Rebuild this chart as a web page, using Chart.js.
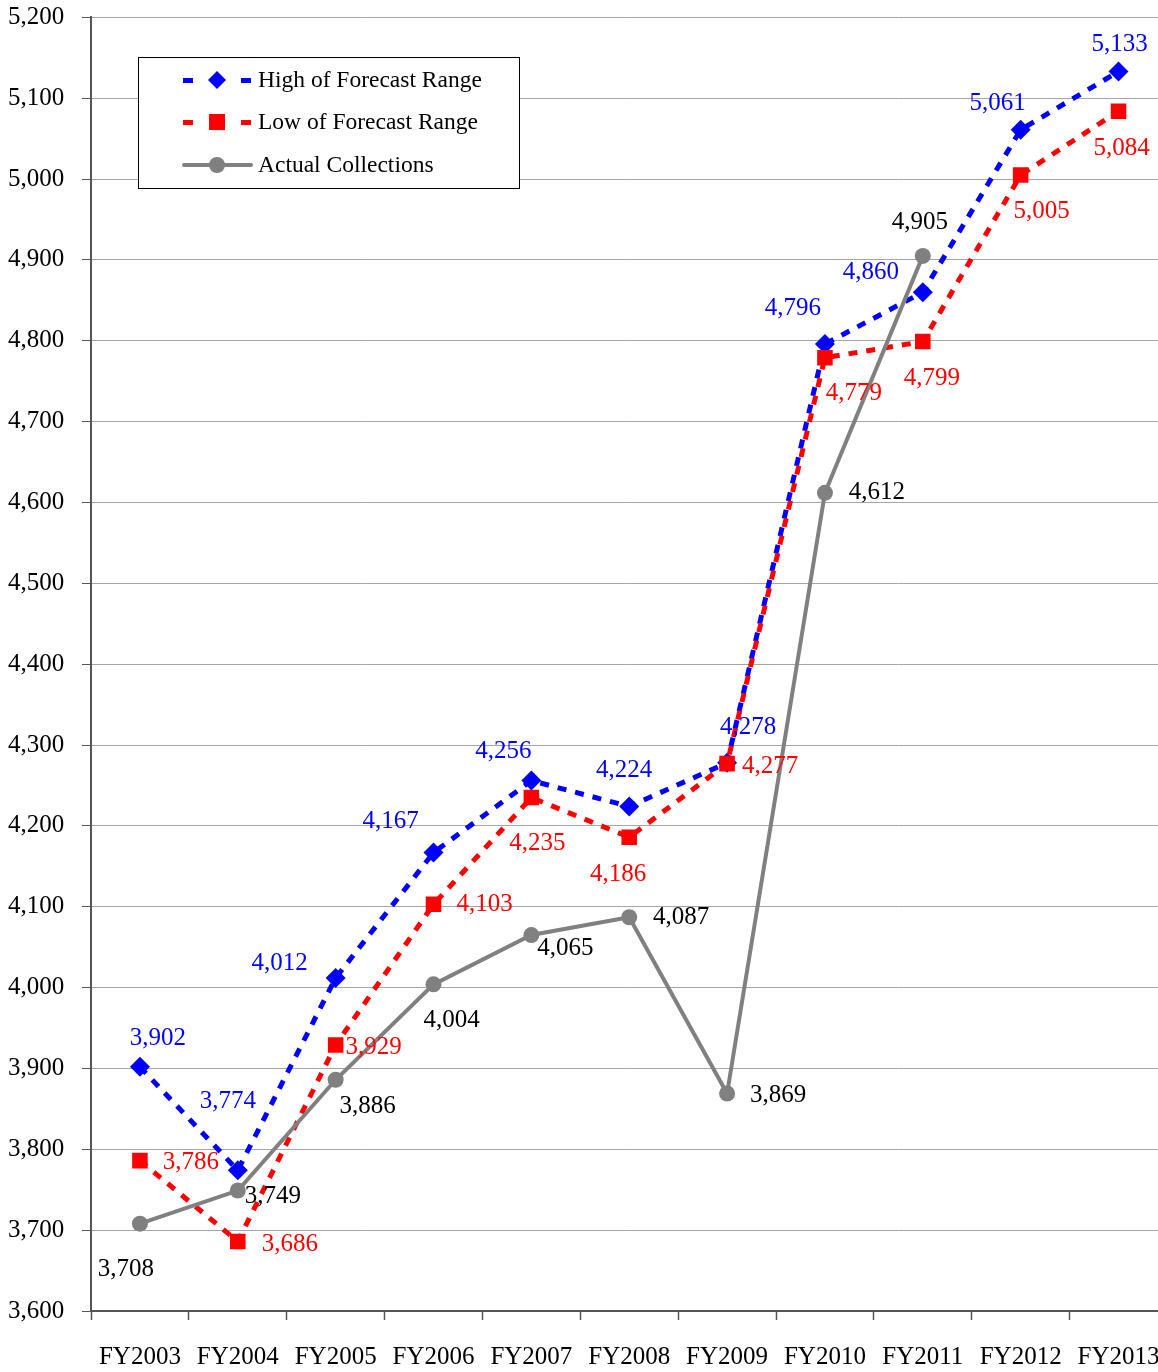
<!DOCTYPE html>
<html>
<head>
<meta charset="utf-8">
<script src="https://cdn.jsdelivr.net/npm/chart.js@4.4.0/dist/chart.umd.min.js"></script>
<style>
  html, body { margin: 0; padding: 0; background: #fff; overflow: hidden; }
  #wrap { width: 1182px; height: 1372px; }
</style>
</head>
<body>
<div id="wrap"><canvas id="chart" width="1182" height="1372"></canvas></div>
<script>
const years = ["FY2003", "FY2004", "FY2005", "FY2006", "FY2007", "FY2008", "FY2009", "FY2010", "FY2011", "FY2012", "FY2013"];
const highForecast = [3902, 3774, 4012, 4167, 4256, 4224, 4278, 4796, 4860, 5061, 5133];
const lowForecast = [3786, 3686, 3929, 4103, 4235, 4186, 4277, 4779, 4799, 5005, 5084];
const actualCollections = [3708, 3749, 3886, 4004, 4065, 4087, 3869, 4612, 4905, null, null];
const seriesNames = ["High of Forecast Range", "Low of Forecast Range", "Actual Collections"];

// where each value label sits relative to its point (dx, dy)
const highLabelPos = [[18,-28],[-10,-69],[-56,-14],[-43,-31],[-28,-29],[-5,-36],[21,-35],[-32,-36],[-52,-20],[-23,-26],[1,-27]];
const lowLabelPos = [[51,2],[52,3],[38,2],[51,0],[6,46],[-11,37],[43,3],[29,36],[9,37],[21,36],[3,37]];
const actualLabelPos = [[-14,46],[35,6],[32,27],[18,36],[34,13],[52,0],[51,2],[52,0],[-3,-33]];

const FONT = "'Liberation Serif', 'Times New Roman', serif";
const fmt = v => v.toLocaleString("en-US");

const valueLabels = {
  id: "valueLabels",
  afterDatasetsDraw(chart) {
    const ctx = chart.ctx;
    ctx.save();
    ctx.font = "25px " + FONT;
    ctx.textAlign = "center";
    ctx.textBaseline = "middle";
    chart.data.datasets.forEach((ds, i) => {
      const meta = chart.getDatasetMeta(i);
      meta.data.forEach((pt, j) => {
        const v = ds.data[j];
        if (v == null) return;
        const off = ds.labelPos[j] || [0, 0];
        ctx.fillStyle = ds.labelColor;
        ctx.fillText(fmt(v), pt.x + off[0], pt.y + off[1]);
      });
    });
    ctx.restore();
  }
};

const boxLegend = {
  id: "boxLegend",
  afterDraw(chart) {
    const ctx = chart.ctx;
    ctx.save();
    ctx.fillStyle = "#fff";
    ctx.fillRect(138, 57, 381, 131);
    ctx.strokeStyle = "#000";
    ctx.lineWidth = 1;
    ctx.strokeRect(138.5, 57.5, 381, 131);

    const rows = [80, 122, 165];
    // high
    ctx.fillStyle = "#0000ff";
    ctx.fillRect(183, rows[0] - 2, 10, 5);
    ctx.fillRect(241, rows[0] - 2, 10, 5);
    ctx.beginPath();
    ctx.moveTo(217, rows[0] - 9); ctx.lineTo(226, rows[0]); ctx.lineTo(217, rows[0] + 9); ctx.lineTo(208, rows[0]);
    ctx.closePath(); ctx.fill();
    // low
    ctx.fillStyle = "#ff0000";
    ctx.fillRect(183, rows[1] - 2, 10, 5);
    ctx.fillRect(241, rows[1] - 2, 10, 5);
    ctx.fillRect(209, rows[1] - 8, 16, 16);
    // actual
    ctx.strokeStyle = "#808080";
    ctx.lineWidth = 4;
    ctx.lineCap = "round";
    ctx.beginPath(); ctx.moveTo(184, rows[2]); ctx.lineTo(251, rows[2]); ctx.stroke();
    ctx.fillStyle = "#808080";
    ctx.beginPath(); ctx.arc(217, rows[2], 8, 0, Math.PI * 2); ctx.fill();

    ctx.fillStyle = "#000";
    ctx.font = "23.5px " + FONT;
    ctx.textBaseline = "middle";
    ctx.textAlign = "left";
    seriesNames.forEach((n, i) => ctx.fillText(n, 258, rows[i] + 1));
    ctx.restore();
  }
};

new Chart(document.getElementById("chart"), {
  type: "line",
  data: {
    labels: years,
    datasets: [
      {
        label: seriesNames[0], data: highForecast, order: 2,
        borderColor: "#0000ff", backgroundColor: "#0000ff", borderWidth: 5, borderDash: [9, 9],
        pointStyle: "rectRot", pointRadius: 10, pointBorderWidth: 0,
        labelPos: highLabelPos, labelColor: "#0000ff"
      },
      {
        label: seriesNames[1], data: lowForecast, order: 1,
        borderColor: "#ff0000", backgroundColor: "#ff0000", borderWidth: 5, borderDash: [9, 9],
        pointStyle: "rect", pointRadius: 11, pointBorderWidth: 0,
        labelPos: lowLabelPos, labelColor: "#ff0000"
      },
      {
        label: seriesNames[2], data: actualCollections, order: 0,
        borderColor: "#808080", backgroundColor: "#808080", borderWidth: 4,
        pointStyle: "circle", pointRadius: 8, pointBorderWidth: 0,
        labelPos: actualLabelPos, labelColor: "#000"
      }
    ]
  },
  options: {
    responsive: false,
    animation: false,
    layout: { padding: { top: 0, right: 4, left: 8, bottom: 0 } },
    plugins: { legend: { display: false }, tooltip: { enabled: false } },
    scales: {
      x: {
        offset: true,
        grid: { offset: true, drawOnChartArea: false, tickLength: 9, tickColor: "#555", tickWidth: 1.5 },
        border: { color: "#555", width: 2 },
        ticks: { color: "#000", font: { family: FONT, size: 25 }, padding: 22, maxRotation: 0, autoSkip: false },
        afterFit: s => { s.height = 61; }
      },
      y: {
        min: 3600, max: 5200,
        grid: { color: "#a6a6a6", lineWidth: 1, tickLength: 9, tickColor: "#555" },
        border: { color: "#555", width: 2 },
        ticks: { stepSize: 100, color: "#000", font: { family: FONT, size: 25, lineHeight: 1.15 }, padding: 3, crossAlign: "far", callback: v => fmt(v) },
        afterFit: s => { s.width = 83; }
      }
    }
  },
  plugins: [valueLabels, boxLegend]
});
</script>
</body>
</html>
